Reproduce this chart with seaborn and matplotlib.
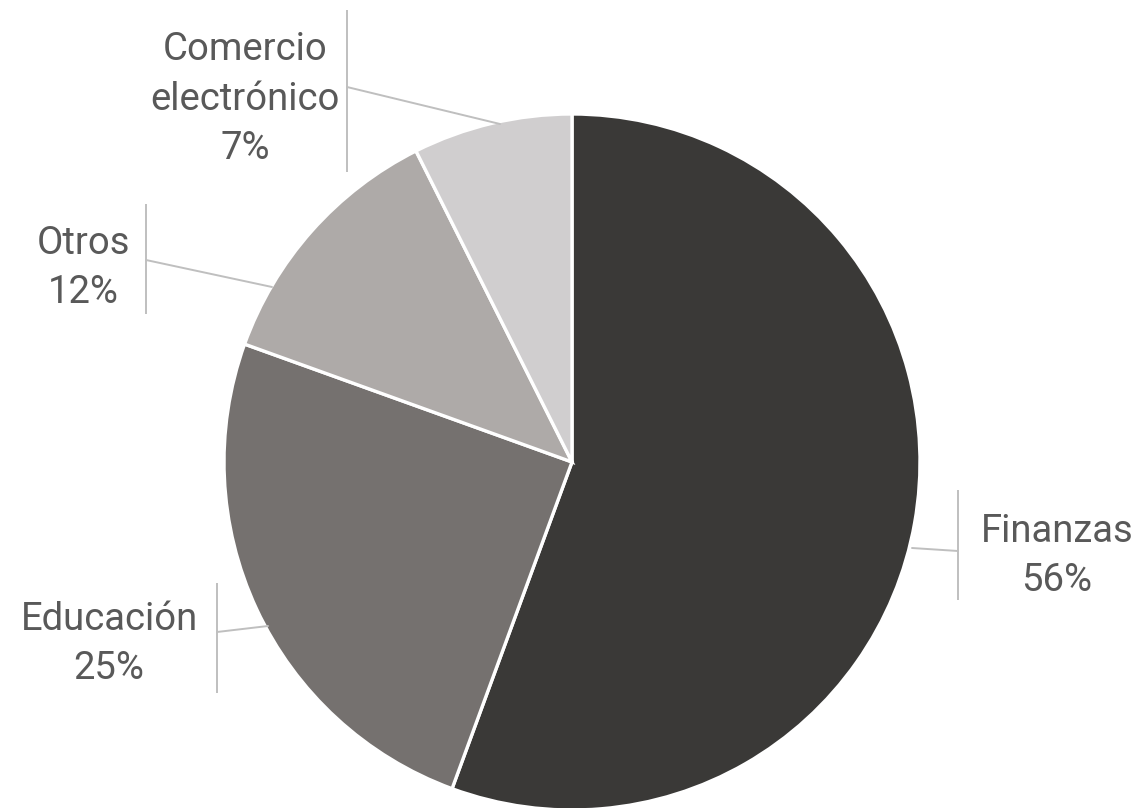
import matplotlib
matplotlib.use("Agg")
import matplotlib.pyplot as plt
import seaborn as sns
import numpy as np

categories = ["Finanzas", "Educación", "Otros", "Comercio\nelectrónico"]
values = [55.6, 24.9, 12.1, 7.4]
colors = ["#3a3937", "#75716f", "#aeaaa8", "#d0cecf"]

sns.set_theme(style="white")
plt.rcParams['font.family'] = ['Roboto', 'DejaVu Sans']

W, H = 1145, 808
CX, CY, R = 572, 462, 348  # pixel layout of the pie

fig = plt.figure(figsize=(W / 100, H / 100), dpi=100)
ax = fig.add_axes([0, 0, 1, 1])

ax.pie(values, colors=colors, startangle=90, counterclock=False, radius=1,
       wedgeprops=dict(edgecolor="white", linewidth=2.4))
ax.set_xlim(-CX / R, (W - CX) / R)
ax.set_ylim(-(H - CY) / R, CY / R)
ax.set_aspect("auto")
ax.axis("off")

def d(px, py):
    return (px - CX) / R, (CY - py) / R

# label layout: text center (px), bar x, bar y-range, leader start on pie edge
layout = [
    dict(tx=1057, ty=556, bx=958, by=(490, 600), lp=(912, 548), lq=(958, 551)),
    dict(tx=109, ty=644, bx=217, by=(583, 693), lp=(268, 626), lq=(217, 632)),
    dict(tx=83, ty=268, bx=146, by=(204, 314), lp=(272, 287), lq=(146, 260)),
    dict(tx=245, ty=99, bx=347, by=(10, 172), lp=(500, 124), lq=(347, 87)),
]

total = sum(values)
lc = "#bfbfbf"
for cat, v, L in zip(categories, values, layout):
    x, y = d(L["tx"], L["ty"])
    ax.text(x, y, f"{cat}\n{round(100 * v / total)}%", ha="center", va="center",
            fontsize=27.5, fontweight="normal", color="#595959", linespacing=1.42)
    b0 = d(L["bx"], L["by"][0]); b1 = d(L["bx"], L["by"][1])
    ax.plot([b0[0], b1[0]], [b0[1], b1[1]], color=lc, lw=1.4, solid_capstyle="butt")
    p = d(*L["lp"]); q = d(*L["lq"])
    ax.plot([p[0], q[0]], [p[1], q[1]], color=lc, lw=1.4)

fig.savefig("out.png", dpi=100, facecolor="white")
